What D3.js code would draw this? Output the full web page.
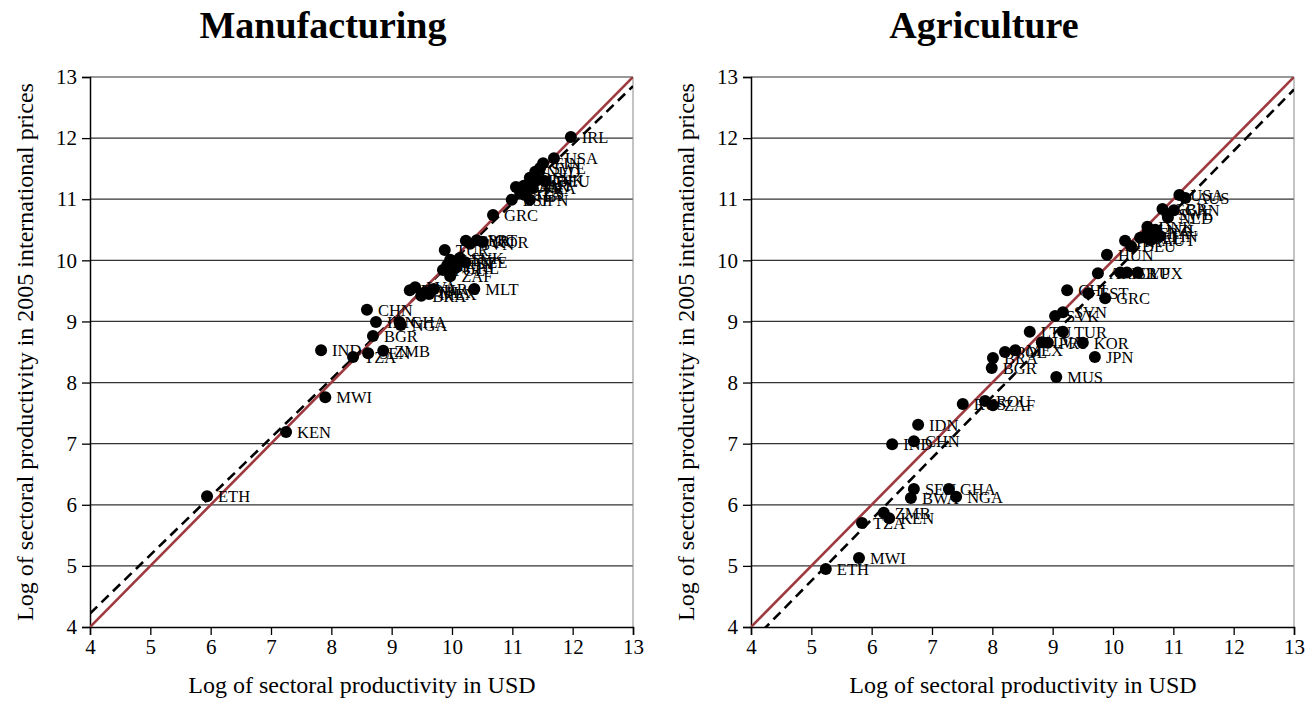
<!DOCTYPE html>
<meta charset="utf-8">
<style>
body { margin: 0; background: #fff; }
text { font-family: "Liberation Serif", "Times New Roman", serif; fill: #000; }
.title { font-size: 38px; font-weight: bold; }
.axlab { font-size: 24px; }
.code { font-size: 16.5px; }
.grid line { stroke: #333; stroke-width: 1.2px; }
</style>
<svg width="1307" height="701"></svg>
<script src="https://cdn.jsdelivr.net/npm/d3@7"></script>
<script>

var ticks = [4, 5, 6, 7, 8, 9, 10, 11, 12, 13];

// Manufacturing: log productivity in USD (x) and in 2005 intl prices (y)
var mfgCodes = ["ETH","KEN","MWI","IND","TZA","SEN","ZMB","BGR","IDN","NGA","GHA","CHN",
  "ROU","LVA","BRA","THA","MEX","ARG","ZAF","MLT","TUR","POL","HUN","LTU","EST","SVK","CZE","CHL",
  "SVN","CYP","PRT","KOR","GRC","IRL","USA","FIN","SWE","NLD","BEL","DNK","AUT","DEU","FRA",
  "GBR","CAN","ITA","JPN","ESP","AUS"];
var mfgUsd = [5.94,7.25,7.90,7.83,8.36,8.61,8.86,8.69,8.74,9.15,9.13,8.59,
  9.30,9.39,9.49,9.56,9.62,9.70,9.97,10.37,9.88,9.85,9.92,9.97,10.05,10.13,10.22,10.05,
  10.30,10.23,10.41,10.51,10.68,11.97,11.69,11.51,11.46,11.38,11.29,11.41,11.26,11.54,11.34,
  11.19,11.06,11.21,11.29,10.99,11.13];
var mfgPpp = [6.14,7.19,7.76,8.53,8.42,8.48,8.52,8.76,8.99,8.94,8.99,9.19,
  9.51,9.56,9.42,9.48,9.45,9.53,9.74,9.53,10.17,9.84,9.92,10.01,9.96,10.04,9.97,9.87,
  10.27,10.32,10.33,10.30,10.74,12.02,11.67,11.59,11.51,11.45,11.35,11.31,11.23,11.30,11.18,
  11.22,11.20,11.07,10.99,10.99,11.10];
var mfgFit = [0.384, 0.959];

// Agriculture
var agrCodes = ["ETH","MWI","TZA","ZMB","KEN","BWA","SEN","GHA","NGA","IND","CHN","IDN",
  "RUS","ROU","ZAF","BGR","BRA","POL","MEX","LTU","LVA","PRT","TUR","KOR","JPN","MUS","SVK","SVN",
  "CHL","EST","GRC","ARG","ISR","CYP","LUX","HUN","DEU","ITA","BEL","FRA","AUT","NZL","FIN",
  "DNK","NLD","SWE","GBR","CAN","AUS","USA"];
var agrUsd = [5.24,5.79,5.84,6.20,6.29,6.65,6.70,7.28,7.40,6.34,6.70,6.77,
  7.51,7.88,8.01,7.99,8.01,8.21,8.38,8.62,8.82,8.92,9.17,9.50,9.70,9.06,9.04,9.17,
  9.24,9.59,9.87,9.75,10.12,10.23,10.41,9.90,10.30,10.20,10.45,10.57,10.62,10.70,10.78,
  10.57,10.91,10.90,10.82,11.01,11.20,11.10];
var agrPpp = [4.95,5.13,5.70,5.87,5.78,6.11,6.26,6.26,6.13,6.99,7.04,7.31,
  7.65,7.70,7.63,8.24,8.40,8.50,8.53,8.83,8.66,8.65,8.83,8.65,8.42,8.09,9.09,9.15,
  9.51,9.46,9.38,9.79,9.80,9.80,9.80,10.09,10.23,10.32,10.37,10.44,10.33,10.50,10.40,
  10.55,10.70,10.76,10.84,10.82,11.02,11.07];
var agrFit = [-0.27, 1.005];

var svg = d3.select("svg");

var panels = [
  {title: "Manufacturing", left: 90, codes: mfgCodes, xs: mfgUsd, ys: mfgPpp, fit: mfgFit},
  {title: "Agriculture", left: 751, codes: agrCodes, xs: agrUsd, ys: agrPpp, fit: agrFit}
];

var pw = 543, plotTop = 77, plotBottom = 627;

panels.forEach(function(p, i) {
  var x = d3.scaleLinear().domain([4, 13]).range([p.left, p.left + pw]);
  var y = d3.scaleLinear().domain([4, 13]).range([plotBottom, plotTop]);
  var g = svg.append("g");

  g.append("clipPath").attr("id", "clip" + i)
    .append("rect").attr("x", p.left).attr("y", plotTop).attr("width", pw).attr("height", plotBottom - plotTop);

  // horizontal gridlines
  g.append("g").attr("class", "grid")
    .selectAll("line").data(ticks.slice(1))
    .enter().append("line")
      .attr("x1", p.left).attr("x2", p.left + pw)
      .attr("y1", function(d) { return y(d); }).attr("y2", function(d) { return y(d); });

  // right border
  g.append("line").attr("x1", p.left + pw).attr("x2", p.left + pw)
    .attr("y1", plotTop).attr("y2", plotBottom).attr("stroke", "#888").attr("stroke-width", 1);

  var xAxis = g.append("g").attr("transform", "translate(0," + plotBottom + ")")
    .call(d3.axisBottom(x).tickValues(ticks).tickSize(8).tickPadding(4));
  var yAxis = g.append("g").attr("transform", "translate(" + p.left + ",0)")
    .call(d3.axisLeft(y).tickValues(ticks).tickSize(8).tickPadding(5));
  [xAxis, yAxis].forEach(function(a) {
    a.select(".domain").attr("stroke", "#000").attr("stroke-width", 1.5);
    a.selectAll(".tick line").attr("stroke", "#000").attr("stroke-width", 1.3);
    a.selectAll(".tick text").style("font-family", "'Liberation Serif', serif").style("font-size", "21px");
  });

  var lines = g.append("g").attr("clip-path", "url(#clip" + i + ")");
  // fitted line (dashed)
  lines.append("line")
    .attr("x1", x(4)).attr("y1", y(p.fit[0] + p.fit[1] * 4))
    .attr("x2", x(13)).attr("y2", y(p.fit[0] + p.fit[1] * 13))
    .attr("stroke", "#000").attr("stroke-width", 2.6).attr("stroke-dasharray", "10,6");
  // 45-degree line
  lines.append("line")
    .attr("x1", x(4)).attr("y1", y(4)).attr("x2", x(13)).attr("y2", y(13))
    .attr("stroke", "#9e3a3f").attr("stroke-width", 2.6);

  var idx = d3.range(p.codes.length);
  g.append("g").selectAll("circle").data(idx)
    .enter().append("circle")
      .attr("cx", function(k) { return x(p.xs[k]); })
      .attr("cy", function(k) { return y(p.ys[k]); })
      .attr("r", 6).attr("fill", "#000");

  g.append("g").selectAll("text").data(idx)
    .enter().append("text").attr("class", "code")
      .attr("x", function(k) { return x(p.xs[k]) + 11; })
      .attr("y", function(k) { return y(p.ys[k]) + 6; })
      .text(function(k) { return p.codes[k]; });

  svg.append("text").attr("class", "title")
    .attr("x", p.left + 233).attr("y", 38).attr("text-anchor", "middle").text(p.title);

  svg.append("text").attr("class", "axlab")
    .attr("x", p.left + 272).attr("y", 693).attr("text-anchor", "middle")
    .text("Log of sectoral productivity in USD");

  svg.append("text").attr("class", "axlab")
    .attr("transform", "translate(" + (p.left - 57) + ",352) rotate(-90)")
    .attr("text-anchor", "middle")
    .text("Log of sectoral productivity in 2005 international prices");
});

</script>
